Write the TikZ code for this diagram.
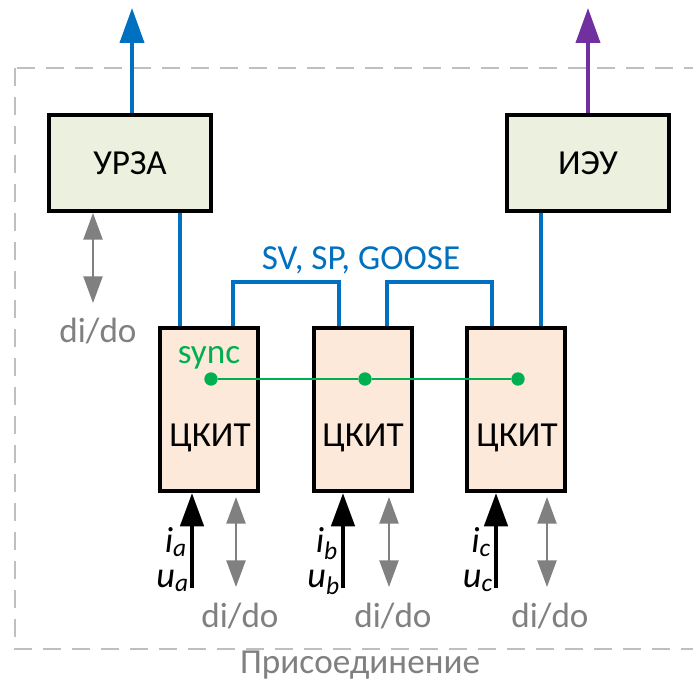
\documentclass[tikz,border=0pt]{standalone}
\usepackage{fontspec}
\setmainfont{Carlito}
\usetikzlibrary{arrows.meta,positioning,calc}
\definecolor{busblue}{HTML}{0070C0}
\definecolor{iedpurple}{HTML}{7030A0}
\definecolor{syncgreen}{HTML}{00B050}
\definecolor{didogray}{HTML}{808080}
\definecolor{framegray}{HTML}{BFBFBF}
\definecolor{devfill}{HTML}{EBF1DE}
\definecolor{ckitfill}{HTML}{FCE9DA}

\begin{document}
\begin{tikzpicture}[x=0.03cm, y=-0.03cm,
  font=\fontsize{30}{31}\selectfont,
  devbox/.style={rectangle, draw, line width=0.12cm, fill=devfill, minimum width=4.86cm, minimum height=2.88cm, inner sep=0pt},
  ckitbox/.style={rectangle, draw, line width=0.12cm, fill=ckitfill, minimum width=2.94cm, minimum height=4.89cm, inner sep=0pt},
  bus/.style={line width=0.12cm, busblue},
  upout/.style={-{Triangle[length=1.05cm, width=0.72cm]}, line width=0.12cm},
  measarr/.style={-{Triangle[length=1cm, width=0.69cm]}, line width=0.14cm, black},
  didoarr/.style={{Triangle[length=0.8cm, width=0.57cm]}-{Triangle[length=0.8cm, width=0.57cm]}, line width=0.07cm, didogray},
  syncdot/.style={circle, fill=syncgreen, minimum size=0.4cm, inner sep=0pt},
  lbl/.style={anchor=base, inner sep=0pt},
  measlbl/.style={anchor=base east, inner sep=0pt, font=\fontsize{31}{32}\selectfont\itshape}
]
  \clip (0,0) rectangle (693,681);
  \fill[white] (0,0) rectangle (693,681);

  % frame of the bay
  \draw[framegray, line width=0.06cm, dash pattern=on 0.54cm off 0.33cm] (15,68) rectangle (720,649);
  \node[lbl, didogray] (bay) at (360,673) {Присоединение};

  % devices
  \node[devbox] (urza) at (130,163) {УРЗА};
  \node[devbox] (ieu) at (588,163) {ИЭУ};
  \coordinate (urzaout) at (132,8);
  \coordinate (ieuout) at (588,8);
  \draw[upout, busblue] (urza.north -| urzaout) -- (urzaout);
  \draw[upout, iedpurple] (ieu.north) -- (ieuout);

  \node[ckitbox] (ckitA) at (209,409.5) {};
  \node[ckitbox] (ckitB) at (362.5,409.5) {};
  \node[ckitbox] (ckitC) at (516,409.5) {};
  \node[lbl] (ckitAtxt) at (210,446) {ЦКИТ};
  \node[lbl] (ckitBtxt) at (363,446) {ЦКИТ};
  \node[lbl] (ckitCtxt) at (517,446) {ЦКИТ};

  % process bus
  \draw[bus] (urza.south -| 180,0) -- (ckitA.north -| 180,0);
  \draw[bus] (ckitA.north -| 233,0) -- (233,282) -| (ckitB.north -| 339,0);
  \draw[bus] (ckitB.north -| 387,0) -- (387,282) -| (ckitC.north -| 492,0);
  \draw[bus] (ieu.south -| 541,0) -- (ckitC.north -| 541,0);
  \node[lbl, busblue] (buslbl) at (361,270) {SV, SP, GOOSE};

  % synchronisation
  \node[lbl, syncgreen] (synclbl) at (209,363) {sync};
  \node[syncdot] (syncA) at (211,379) {};
  \node[syncdot] (syncB) at (365,379) {};
  \node[syncdot] (syncC) at (518,379) {};
  \draw[syncgreen, line width=0.07cm] (syncA) -- (syncB) -- (syncC);

  % discrete signals of the relay
  \coordinate (didoUend) at (93,303);
  \draw[didoarr] (urza.south -| didoUend) -- (didoUend);
  \node[lbl, didogray] (didoU) at (98,343) {di/do};

  % measurements and discrete signals of the units
  \foreach \unit/\mx/\dx/\lx/\ph in {A/192/236/240/a, B/343/389/393/b, C/496/547/550/c}{
    \coordinate (meas\unit) at (\mx,588);
    \coordinate (dido\unit end) at (\dx,587);
    \draw[measarr] (meas\unit) -- (ckit\unit.south -| meas\unit);
    \draw[didoarr] ([yshift=-0.12cm]ckit\unit.south -| dido\unit end) -- (dido\unit end);
    \node[measlbl] (ilbl\unit) at (\mx-5,552) {i\textsubscript{\ph}};
    \node[measlbl] (ulbl\unit) at (\mx-3,587) {u\textsubscript{\ph}};
    \node[lbl, didogray] (dido\unit) at (\lx,627) {di/do};
  }
\end{tikzpicture}
\end{document}
